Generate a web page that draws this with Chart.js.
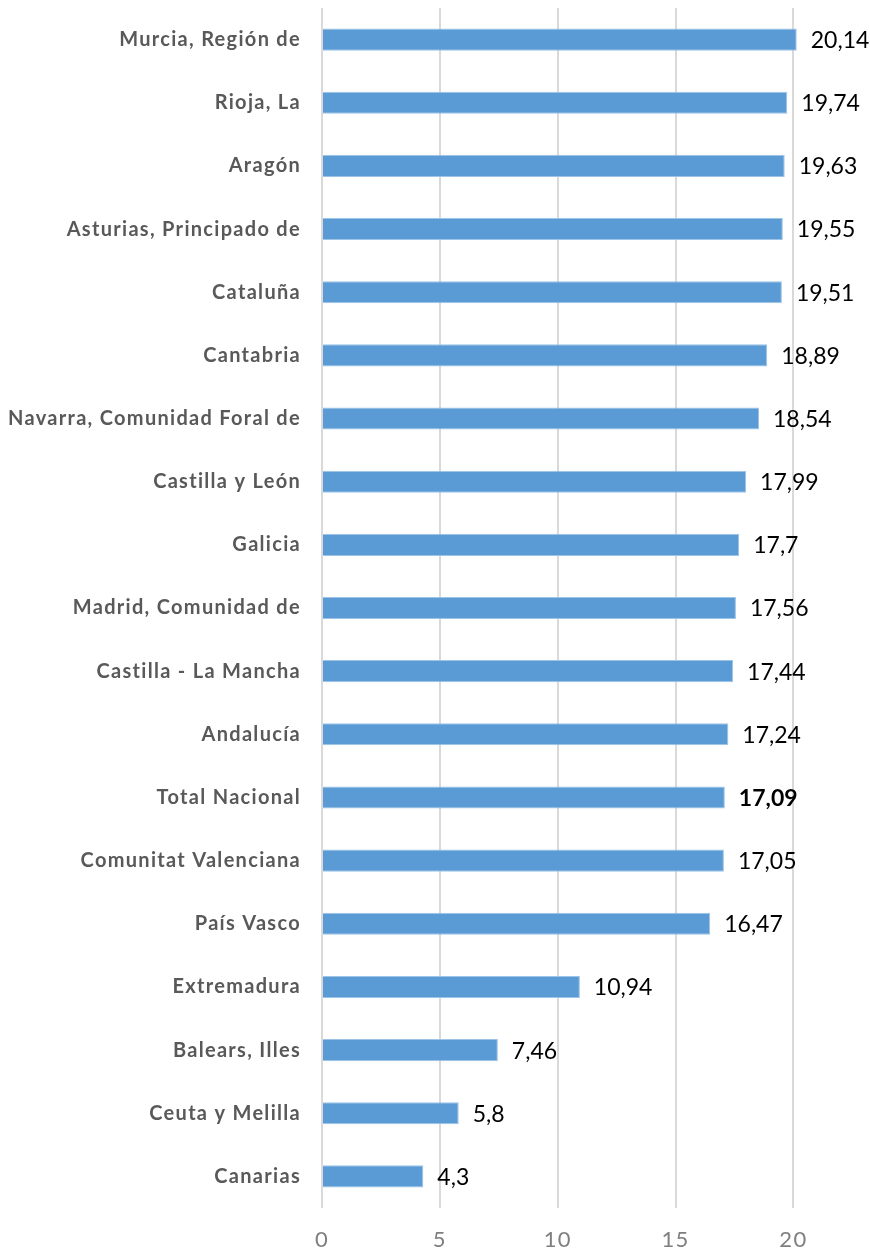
<!DOCTYPE html>
<html>
<head>
<meta charset="utf-8">
<script src="https://cdn.jsdelivr.net/npm/chart.js@4"></script>
<style>
  html, body { margin: 0; padding: 0; background: #fff; }
  #wrap { width: 870px; height: 1251px; }
</style>
</head>
<body>
<div id="wrap"><canvas id="c" width="870" height="1251"></canvas></div>
<script>
const regions = [
  'Murcia, Región de', 'Rioja, La', 'Aragón', 'Asturias, Principado de', 'Cataluña',
  'Cantabria', 'Navarra, Comunidad Foral de', 'Castilla y León', 'Galicia',
  'Madrid, Comunidad de', 'Castilla - La Mancha', 'Andalucía', 'Total Nacional',
  'Comunitat Valenciana', 'País Vasco', 'Extremadura', 'Balears, Illes',
  'Ceuta y Melilla', 'Canarias'
];
const values = [
  20.14, 19.74, 19.63, 19.55, 19.51, 18.89, 18.54, 17.99, 17.7, 17.56,
  17.44, 17.24, 17.09, 17.05, 16.47, 10.94, 7.46, 5.8, 4.3
];
const xTicks = [0, 5, 10, 15, 20];
const highlight = 'Total Nacional';

const FONT = "Lato, sans-serif";

// spaced-out category labels like the original, then back to normal for the values
const spacing = {
  id: 'spacing',
  beforeDraw(chart) { chart.ctx.letterSpacing = '1.3px'; },
  beforeDatasetsDraw(chart) { chart.ctx.letterSpacing = '0px'; }
};

// value labels at the end of each bar, spanish decimal comma
const valueLabels = {
  id: 'valueLabels',
  afterDatasetsDraw(chart) {
    const ctx = chart.ctx;
    const meta = chart.getDatasetMeta(0);
    ctx.save();
    ctx.textAlign = 'left';
    ctx.textBaseline = 'middle';
    ctx.fillStyle = '#000';
    meta.data.forEach((bar, i) => {
      const bold = regions[i] === highlight;
      ctx.font = (bold ? 'bold ' : '') + '23px ' + FONT;
      ctx.fillText(String(values[i]).replace('.', ','), bar.x + 14, bar.y + 1);
    });
    ctx.restore();
  }
};

new Chart(document.getElementById('c'), {
  type: 'bar',
  data: {
    labels: regions,
    datasets: [{
      data: values,
      backgroundColor: '#5b9bd5',
      borderColor: '#9dc3e6',
      borderWidth: 1,
      barPercentage: 0.7,
      categoryPercentage: 0.5
    }]
  },
  options: {
    indexAxis: 'y',
    responsive: false,
    animation: false,
    layout: { padding: { top: 8, right: 53, bottom: 0, left: 0 } },
    plugins: { legend: { display: false }, tooltip: { enabled: false } },
    scales: {
      x: {
        min: 0,
        max: 21,
        afterBuildTicks: s => { s.ticks = xTicks.map(v => ({ value: v })); },
        afterFit: s => { s.height = 43; },
        grid: { color: '#d9d9d9', lineWidth: 2, drawTicks: false },
        border: { display: false },
        ticks: { color: '#7f7f7f', padding: 21, font: { family: FONT, size: 22, lineHeight: 1 } }
      },
      y: {
        afterFit: s => { s.width = 322; s.paddingTop = 0; s.paddingBottom = 0; },
        grid: { display: false, drawTicks: false },
        border: { display: false },
        ticks: { color: '#595959', padding: 21, font: { family: FONT, size: 20, weight: 'bold' } }
      }
    }
  },
  plugins: [spacing, valueLabels]
});
</script>
</body>
</html>
